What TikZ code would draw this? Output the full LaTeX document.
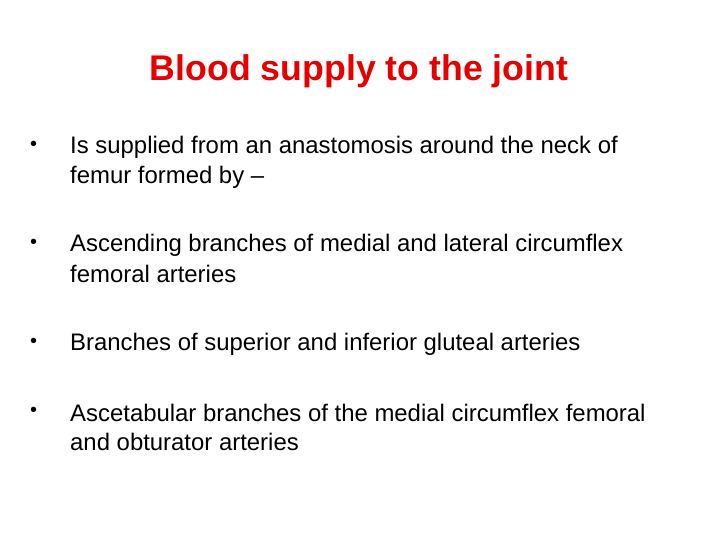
\documentclass[tikz,border=0pt]{standalone}
\usepackage{fontspec}
\setmainfont{Liberation Sans}
\definecolor{titlered}{RGB}{230,0,0}
\begin{document}
\begin{tikzpicture}[x=1bp,y=-1bp,
  body/.style={anchor=west,inner sep=0pt,font=\fontsize{24}{28}\selectfont},
  bul/.style={anchor=west,inner sep=0pt,font=\fontsize{20}{24}\selectfont}]
\useasboundingbox (0,0) rectangle (720,540);
\node[inner sep=0pt,text=titlered,font=\bfseries\fontsize{35.8}{40}\selectfont] (t) at (359,71) {Blood supply to the joint};
\node[bul] (b1) at (30,146) {•};
\node[body] (l1) at (70,147) {Is supplied from an anastomosis around the neck of};
\node[body] (l1b) at (70,177) {femur formed by –};
\node[bul] (b2) at (30,244) {•};
\node[body] (l2) at (70,245) {Ascending branches of medial and lateral circumflex};
\node[body] (l2b) at (70,274) {femoral arteries};
\node[bul] (b3) at (30,343) {•};
\node[body] (l3) at (70,344) {Branches of superior and inferior gluteal arteries};
\node[bul] (b4) at (30,412) {•};
\node[body] (l4) at (70,413) {Ascetabular branches of the medial circumflex femoral};
\node[body] (l4b) at (70,442) {and obturator arteries};
\end{tikzpicture}
\end{document}
